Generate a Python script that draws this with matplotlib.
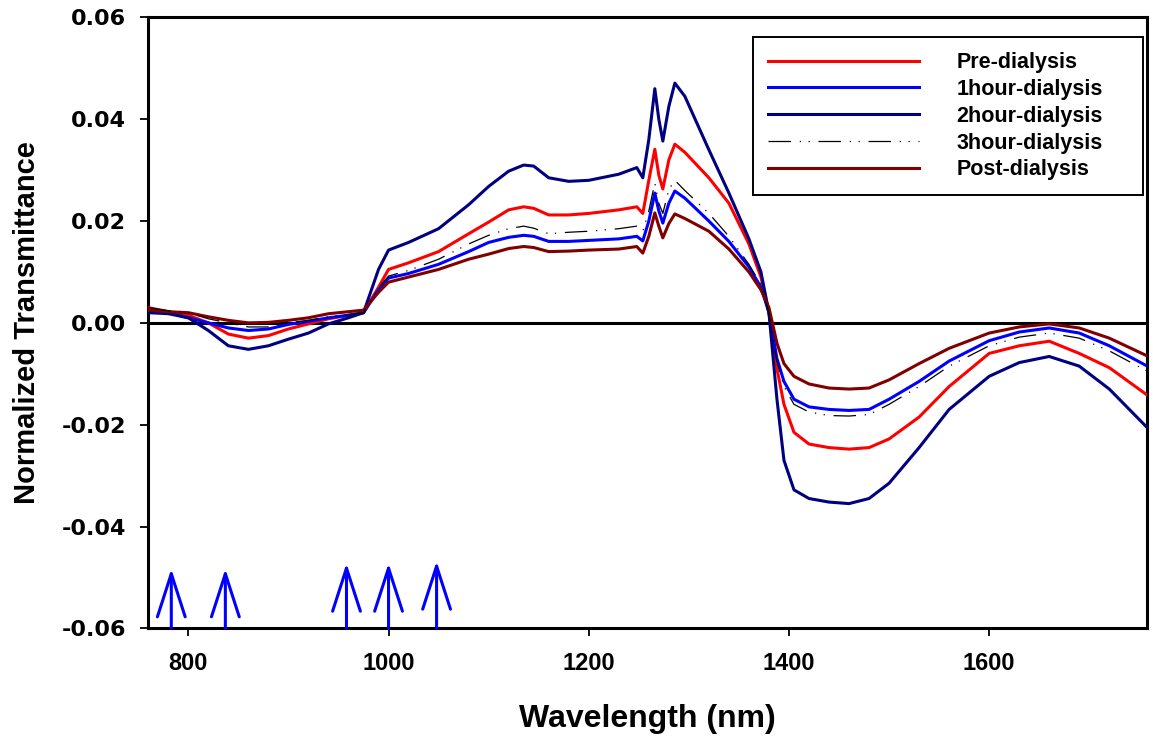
import numpy as np
import matplotlib
matplotlib.use('Agg')
import matplotlib.pyplot as plt

# ---------------------------------------------------------------------------
# data (wavelength in nm)
# ---------------------------------------------------------------------------
wavelength = [760, 780, 800, 820, 840, 860, 880, 900, 920, 940, 960, 975, 990,
              1000, 1020, 1050, 1080, 1100, 1120, 1135, 1145, 1160, 1180, 1200,
              1230, 1248, 1254, 1260, 1266, 1270, 1274, 1280, 1286, 1296, 1320,
              1340, 1360, 1372, 1380, 1388, 1395, 1405, 1420, 1440, 1460, 1480,
              1500, 1530, 1560, 1600, 1630, 1660, 1690, 1720, 1758]

pre_dialysis = [0.0030, 0.0022, 0.0015, 0.0000, -0.0022, -0.0030, -0.0025, -0.0012,
                -0.0002, 0.0008, 0.0015, 0.0020, 0.0070, 0.0105, 0.0118, 0.0140,
                0.0175, 0.0198, 0.0222, 0.0228, 0.0225, 0.0212, 0.0212, 0.0215,
                0.0222, 0.0228, 0.0215, 0.0280, 0.0341, 0.0290, 0.0263, 0.0320,
                0.0351, 0.0335, 0.0285, 0.0235, 0.0155, 0.0090, 0.0020, -0.0090,
                -0.0160, -0.0215, -0.0238, -0.0245, -0.0248, -0.0245, -0.0228,
                -0.0185, -0.0125, -0.0060, -0.0045, -0.0036, -0.0060, -0.0088,
                -0.0142]

hour1_dialysis = [0.0025, 0.0020, 0.0010, 0.0000, -0.0010, -0.0015, -0.0012, -0.0003,
                  0.0003, 0.0010, 0.0015, 0.0020, 0.0065, 0.0088, 0.0097, 0.0115,
                  0.0140, 0.0158, 0.0168, 0.0172, 0.0170, 0.0160, 0.0160, 0.0162,
                  0.0165, 0.0170, 0.0161, 0.0200, 0.0255, 0.0220, 0.0196, 0.0235,
                  0.0259, 0.0245, 0.0200, 0.0160, 0.0110, 0.0070, 0.0020, -0.0070,
                  -0.0115, -0.0150, -0.0165, -0.0170, -0.0172, -0.0170, -0.0150,
                  -0.0115, -0.0075, -0.0035, -0.0018, -0.0010, -0.0020, -0.0045,
                  -0.0085]

hour2_dialysis = [0.0020, 0.0018, 0.0010, -0.0015, -0.0045, -0.0052, -0.0045, -0.0032,
                  -0.0020, -0.0002, 0.0010, 0.0020, 0.0105, 0.0143, 0.0158, 0.0185,
                  0.0232, 0.0268, 0.0298, 0.0310, 0.0308, 0.0285, 0.0278, 0.0280,
                  0.0292, 0.0305, 0.0285, 0.0360, 0.0460, 0.0400, 0.0357, 0.0425,
                  0.0471, 0.0445, 0.0340, 0.0255, 0.0165, 0.0100, 0.0020, -0.0150,
                  -0.0270, -0.0328, -0.0345, -0.0352, -0.0355, -0.0345, -0.0315,
                  -0.0245, -0.0170, -0.0105, -0.0078, -0.0066, -0.0085, -0.0130,
                  -0.0206]

hour3_dialysis = [0.0030, 0.0024, 0.0020, 0.0008, 0.0000, -0.0008, -0.0008, 0.0000,
                  0.0005, 0.0012, 0.0016, 0.0020, 0.0068, 0.0092, 0.0103, 0.0125,
                  0.0155, 0.0172, 0.0185, 0.0190, 0.0186, 0.0175, 0.0178, 0.0180,
                  0.0185, 0.0190, 0.0180, 0.0220, 0.0275, 0.0235, 0.0215, 0.0262,
                  0.0280, 0.0260, 0.0215, 0.0170, 0.0115, 0.0075, 0.0020, -0.0075,
                  -0.0125, -0.0160, -0.0175, -0.0182, -0.0183, -0.0180, -0.0160,
                  -0.0125, -0.0085, -0.0045, -0.0028, -0.0020, -0.0030, -0.0055,
                  -0.0095]

post_dialysis = [0.0025, 0.0022, 0.0020, 0.0012, 0.0005, 0.0000, 0.0001, 0.0005,
                 0.0010, 0.0018, 0.0022, 0.0025, 0.0060, 0.0080, 0.0090, 0.0105,
                 0.0125, 0.0135, 0.0146, 0.0150, 0.0148, 0.0140, 0.0141, 0.0143,
                 0.0145, 0.0150, 0.0137, 0.0170, 0.0216, 0.0190, 0.0167, 0.0195,
                 0.0214, 0.0205, 0.0180, 0.0145, 0.0100, 0.0065, 0.0030, -0.0040,
                 -0.0080, -0.0105, -0.0120, -0.0128, -0.0130, -0.0128, -0.0112,
                 -0.0080, -0.0050, -0.0020, -0.0008, -0.0002, -0.0010, -0.0030,
                 -0.0065]

# blue arrows marking absorption bands
arrow_x = [783, 837, 958, 1000, 1048]
arrow_tip = [-0.0483, -0.0483, -0.0472, -0.0472, -0.0468]

x_ticks = [800, 1000, 1200, 1400, 1600]
y_ticks = [-0.06, -0.04, -0.02, 0.00, 0.02, 0.04, 0.06]

# ---------------------------------------------------------------------------
plt.rcParams['font.family'] = ['Liberation Sans', 'DejaVu Sans']
plt.rcParams['font.weight'] = 'bold'

fig = plt.figure(figsize=(11.53, 7.38), dpi=100)
ax = fig.add_axes([0.1286, 0.1486, 0.9951 - 0.1286, 0.9764 - 0.1486])

ax.axhline(0, color='black', lw=2.2, zorder=1)

ax.plot(wavelength, pre_dialysis, color='#FF0000', lw=2.2, label='Pre-dialysis', zorder=3)
ax.plot(wavelength, hour1_dialysis, color='#0000FF', lw=2.2, label='1hour-dialysis', zorder=3)
ax.plot(wavelength, hour2_dialysis, color='#000080', lw=2.2, label='2hour-dialysis', zorder=3)
ax.plot(wavelength, hour3_dialysis, color='black', lw=0.9, dashes=(18, 7, 1, 6, 1, 7),
        label='3hour-dialysis', zorder=4)
ax.plot(wavelength, post_dialysis, color='#800000', lw=2.2, label='Post-dialysis', zorder=3)

for xa, ya in zip(arrow_x, arrow_tip):
    ax.annotate('', xy=(xa, ya), xytext=(xa, -0.06),
                arrowprops=dict(arrowstyle='->,head_length=3.1,head_width=1.0',
                                color='#0000FF', lw=2.2, shrinkA=0, shrinkB=0),
                annotation_clip=False)

ax.set_xlim(760, 1758)
ax.set_ylim(-0.06, 0.06)
ax.set_xticks(x_ticks)
ax.set_yticks(y_ticks)
ax.set_yticklabels([f'{v:.2f}' for v in y_ticks], family='DejaVu Sans',
                   fontsize=16, fontweight='bold')
ax.set_xticklabels([str(v) for v in x_ticks], fontsize=17, fontweight='bold')
ax.tick_params(axis='both', direction='out', length=6, width=1.3, top=False, right=False)
ax.tick_params(axis='y', pad=10)
ax.tick_params(axis='x', pad=11)
for sp in ax.spines.values():
    sp.set_linewidth(2.2)

ax.set_xlabel('Wavelength (nm)', fontsize=23, fontweight='bold', labelpad=21)
ax.set_ylabel('Normalized Transmittance', fontsize=21, fontweight='bold', labelpad=15)

leg = ax.legend(loc='upper left',
                bbox_to_anchor=(753 / 1153, 1 - 190 / 738, 390 / 1153, 153 / 738),
                bbox_transform=fig.transFigure, mode='expand', borderaxespad=0,
                prop={'weight': 'bold', 'size': 15.5},
                handlelength=7.0, handletextpad=1.75, labelspacing=0.27, borderpad=0.7,
                fancybox=False, framealpha=1, edgecolor='black')
leg.get_frame().set_linewidth(1.4)

fig.savefig('out.png', dpi=100)
